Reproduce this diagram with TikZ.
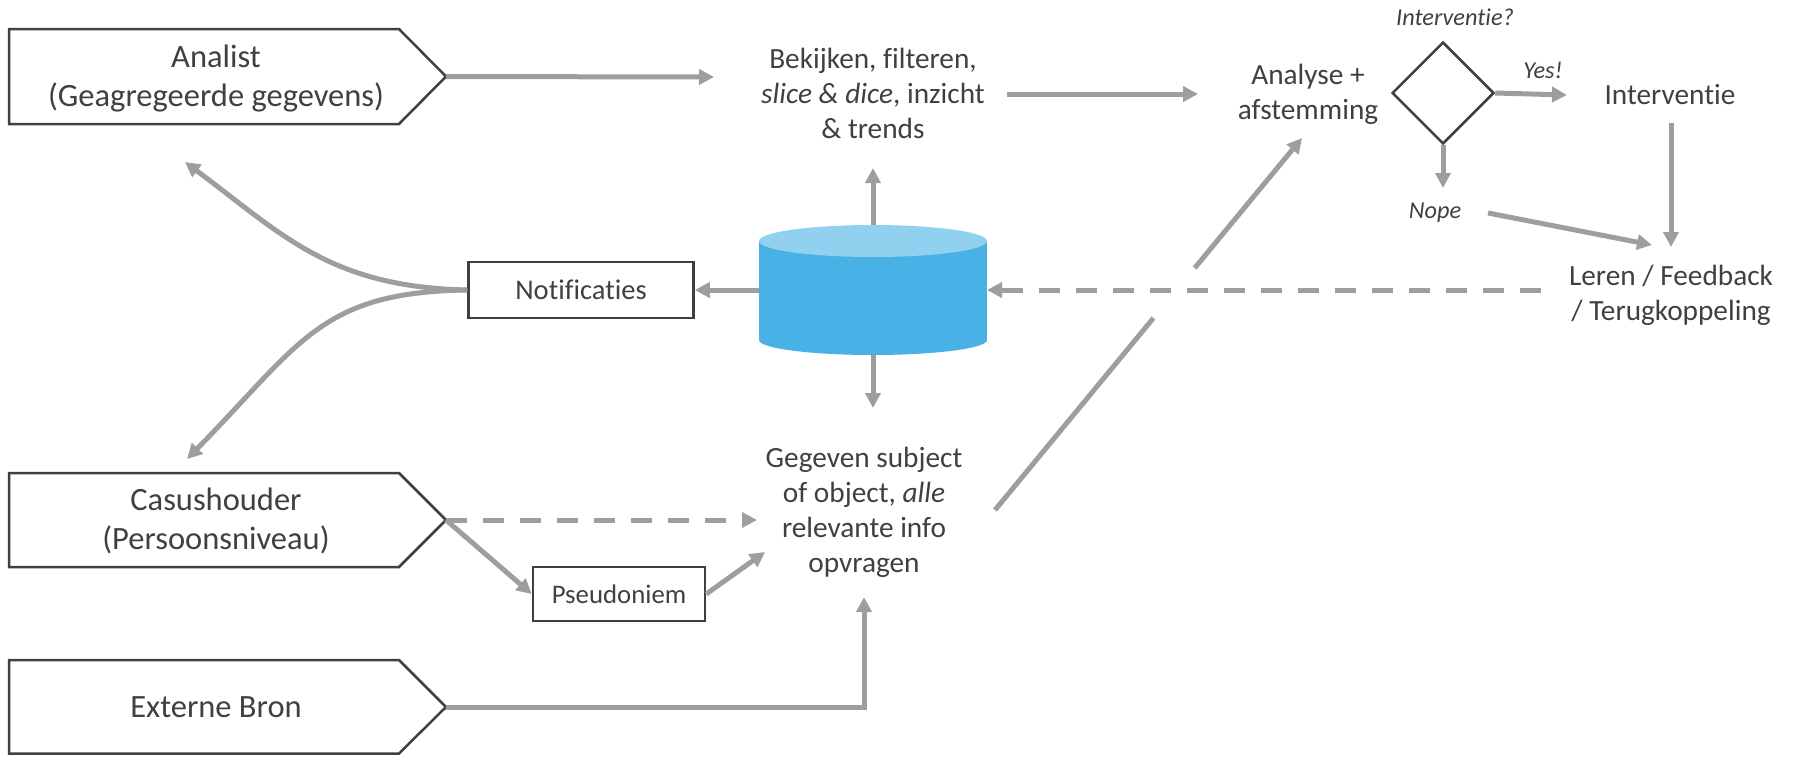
\documentclass[tikz,border=0pt]{standalone}
\usepackage{fontspec}
\setmainfont{Carlito}[Ligatures=NoCommon]
\usetikzlibrary{arrows.meta,shapes.geometric,calc}
\definecolor{txtc}{RGB}{64,64,64}
\definecolor{boxc}{RGB}{64,64,64}
\definecolor{arrc}{RGB}{158,158,158}
\definecolor{dbtop}{RGB}{146,208,240}
\definecolor{dbbody}{RGB}{72,178,230}
\begin{document}
\begin{tikzpicture}[x=1pt,y=-1pt,
  txt/.style={text=txtc, align=center, inner sep=0pt, font=\fontsize{29.3}{35}\selectfont},
  bigtxt/.style={txt, font=\fontsize{32.5}{39}\selectfont},
  smalltxt/.style={txt, font=\fontsize{24.3}{28}\selectfont\itshape},
  boxline/.style={draw=boxc, line width=2.5pt, line join=miter},
  boxn/.style={boxline, inner sep=0pt, text=txtc},
  arr/.style={draw=arrc, line width=5pt, -{Triangle[length=15pt,width=15pt]}},
  dsh/.style={arr, dash pattern=on 21pt off 16pt},
  plainline/.style={draw=arrc, line width=5pt}
]
\useasboundingbox (0,0) rectangle (1794,756);

% pentagons
\draw[boxline] (9,29) -- (399,29) -- (446,76.5) -- (399,124) -- (9,124) -- cycle;
\draw[boxline] (9,473) -- (399,473) -- (446,520) -- (399,567) -- (9,567) -- cycle;
\draw[boxline] (9,660) -- (399,660) -- (446,707) -- (399,753.5) -- (9,753.5) -- cycle;
\coordinate (antip) at (446,76.5);
\coordinate (castip) at (446,520);
\coordinate (exttip) at (446,707);

\node[bigtxt] (an) at (216,79) {Analist\\(Geagregeerde gegevens)};
\node[bigtxt] (cas) at (216,521) {Casushouder\\(Persoonsniveau)};
\node[bigtxt] (ext) at (216,707) {Externe Bron};

% text nodes
\node[txt] (bek) at (873,93) {Bekijken, filteren,\\\textit{slice \& dice}, inzicht\\\& trends};
\node[txt] (ana) at (1308,94) {Analyse +\\afstemming};
\node[txt] (int) at (1670,95) {Interventie};
\node[txt] (ler) at (1671,295) {Leren / Feedback\\/ Terugkoppeling};
\node[txt] (geg) at (864,512) {Gegeven subject\\of object, \textit{alle}\\relevante info\\opvragen};
\node[smalltxt] (intq) at (1455,17) {Interventie?};
\node[smalltxt] (yes) at (1543,70) {Yes!};
\node[smalltxt] (nope) at (1435,213) {Nope};

% diamond
\node[boxn, diamond, aspect=1, minimum width=102pt, minimum height=102pt] (dia) at (1443,93) {};

% boxes
\node[boxn, minimum width=225pt, minimum height=56pt, font=\fontsize{28.5}{33}\selectfont] (not) at (581,290) {Notificaties};
\node[boxn, minimum width=172pt, minimum height=54pt, font=\fontsize{26.8}{30}\selectfont] (pse) at (619,594) {Pseudoniem};

% database cylinder
\fill[dbbody] (873,340) ellipse [x radius=114, y radius=15];
\fill[dbbody] (759,241) rectangle (987,340);
\fill[dbtop] (873,241) ellipse [x radius=114, y radius=16];
\node[minimum width=228pt, minimum height=130pt, inner sep=0pt, outer sep=0pt] (db) at (873,290) {};

% connectors
\draw[arr] (antip) -- ($(bek)+(-159,-16)$);
\draw[arr] ($(bek)+(134,1)$) -- ($(ana)+(-110,0)$);
\draw[arr] (dia.east) -- ($(int)+(-103,0)$);
\draw[arr] (dia.south) -- ($(nope)+(8,-25)$);
\draw[arr] ($(nope)+(53,0)$) -- ($(ler)+(-19,-50)$);
\draw[arr] ($(int)+(1,28)$) -- ($(ler)+(0,-48)$);
\draw[dsh] ($(ler)+(-130,-5)$) -- (db.east);
\draw[arr] (db.west) -- (not.east);
\draw[arr] (db.north) -- ($(bek)+(0,75)$);
\draw[arr] (db.south) -- ($(geg)+(9,-104)$);
\draw[arr] (not.west) .. controls (330,287) and (283,235) .. ($(an)+(-31,83)$);
\draw[arr] (not.west) .. controls (320,292) and (301,343) .. ($(cas)+(-29,-62)$);
\draw[dsh] (castip) -- ($(geg)+(-107,8)$);
\draw[arr] (castip) -- (pse.west);
\draw[arr] (pse.east) -- ($(geg)+(-99,40)$);
\draw[arr] (exttip) -| ($(geg)+(0,85)$);

\coordinate (g1) at ($(geg)+(131,-2)$);
\coordinate (a1) at ($(ana)+(-6,44)$);
\draw[plainline] (g1) -- ($(g1)!0.516!(a1)$);
\draw[arr] ($(g1)!0.6505!(a1)$) -- (a1);
\end{tikzpicture}
\end{document}
